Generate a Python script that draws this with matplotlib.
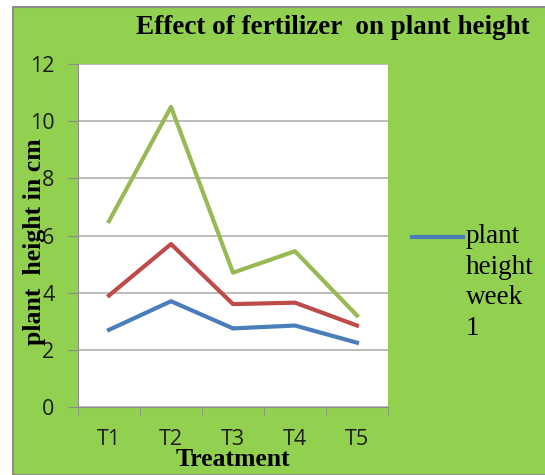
import matplotlib.pyplot as plt
from matplotlib.patches import Rectangle
from matplotlib.lines import Line2D

# chart data
treatments = ['T1', 'T2', 'T3', 'T4', 'T5']
week1 = [2.7, 3.7, 2.75, 2.85, 2.25]
week2 = [3.9, 5.7, 3.6, 3.65, 2.85]
week3 = [6.5, 10.5, 4.7, 5.45, 3.2]
y_ticks = [0, 2, 4, 6, 8, 10, 12]

bg = '#92D050'
serif = ['Liberation Serif', 'DejaVu Serif']
sans = ['Open Sans', 'DejaVu Sans']

fig = plt.figure(figsize=(5.45, 4.75), dpi=100)
fig.patch.set_facecolor('white')

# green chart frame
fig.add_artist(Rectangle((13 / 545, 0), 1, (475 - 7) / 475, transform=fig.transFigure,
                         facecolor=bg, edgecolor='#8c8c8c', linewidth=1.5, zorder=0))

ax = fig.add_axes([78 / 545, 68 / 475, 310 / 545, 343 / 475])
ax.set_facecolor('white')

x = list(range(len(treatments)))
ax.plot(x, week1, color='#4A7EBB', linewidth=3, label='plant height week 1')
ax.plot(x, week2, color='#BE4B48', linewidth=3, label='plant height week 2')
ax.plot(x, week3, color='#98B954', linewidth=3, label='plant height week 3')

ax.set_xlim(-0.5, 4.5)
ax.set_ylim(0, 12)
ax.set_yticks(y_ticks)
ax.set_yticklabels([str(v) for v in y_ticks], fontfamily=sans, fontsize=15.5, color='#1e1e1e')
ax.yaxis.grid(True, color='#b0b0b0', linewidth=1.2)
ax.set_axisbelow(True)

ax.set_xticks(x)
ax.set_xticklabels(treatments, fontfamily=sans, fontsize=15.5, color='#1e1e1e')
ax.set_xticks([i - 0.5 for i in range(len(treatments) + 1)], minor=True)
ax.tick_params(axis='x', which='major', length=0, pad=16)
ax.tick_params(axis='x', which='minor', length=6, color='#8c8c8c', direction='out')
ax.tick_params(axis='y', length=7, color='#8c8c8c', pad=10)

for s in ['top', 'right']:
    ax.spines[s].set_visible(False)
for s in ['left', 'bottom']:
    ax.spines[s].set_color('#8c8c8c')

fig.text(333 / 545, 1 - 28 / 475, 'Effect of fertilizer  on plant height', ha='center', va='center',
         fontfamily=serif, fontweight='bold', fontsize=19.5, color='black')
fig.text(35 / 545, 1 - 242 / 475, 'plant  height in cm', rotation=90, ha='center', va='center',
         fontfamily=serif, fontweight='bold', fontsize=18.5, color='black')
fig.text(233 / 545, 1 - 459 / 475, 'Treatment', ha='center', va='center',
         fontfamily=serif, fontweight='bold', fontsize=18.5, color='black')

# legend (only first entry fits in the frame)
fig.add_artist(Line2D([412 / 545, 463 / 545], [1 - 237 / 475, 1 - 237 / 475], transform=fig.transFigure,
                      color='#4A7EBB', linewidth=3))
fig.text(466 / 545, 1 - 224 / 475, 'plant\nheight\nweek\n1', ha='left', va='top',
         fontfamily=serif, fontsize=19.5, color='black', linespacing=1.3)

fig.savefig('out.png', dpi=100)
